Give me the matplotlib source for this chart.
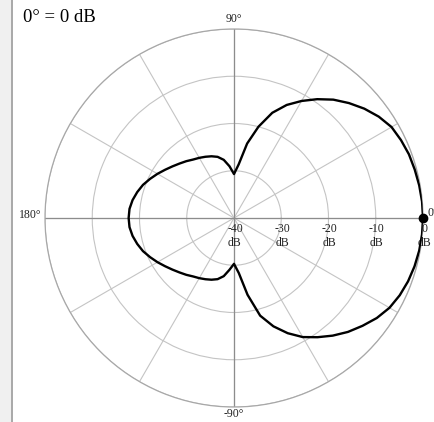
import numpy as np
import matplotlib
matplotlib.use('Agg')
import matplotlib.pyplot as plt
from matplotlib.patches import Rectangle
from matplotlib.lines import Line2D
from matplotlib.transforms import offset_copy

# polar response, dB relative to 0 deg, every 5 degrees (0..360)
ANGLES = list(range(0, 365, 5))
LEVEL_DB = [
    0.0, -0.05, -0.2, -0.4, -0.6, -1.0, -1.5, -2.6, -4.0, -5.6,        # 0-45
    -7.3, -9.3, -11.4, -13.6, -16.3, -20.0, -24.0, -28.6, -30.7,       # 50-90
    -29.0, -27.5, -26.6, -26.1, -25.7, -25.3, -24.9, -24.3, -23.7,     # 95-135
    -23.0, -22.2, -21.3, -20.4, -19.5, -18.8, -18.2, -17.8, -17.7,     # 140-180
    -17.8, -18.2, -18.8, -19.5, -20.4, -21.3, -22.2, -23.0, -23.7,     # 185-225
    -24.3, -24.9, -25.3, -25.7, -26.1, -26.6, -27.5, -29.0, -30.3,     # 230-270
    -28.3, -23.5, -18.6, -15.6, -13.1, -10.9, -9.2, -7.5, -5.9,        # 275-315
    -4.5, -3.1, -2.0, -1.3, -0.8, -0.45, -0.2, -0.05, 0.0,             # 320-360
]
RINGS = [-30, -20, -10, 0]
RING_LABELS = [-40, -30, -20, -10, 0]

SERIF = 'Liberation Serif'
GRID = '#c4c4c4'
AXIS = '#8c8c8c'
TEXT = '#222222'

fig = plt.figure(figsize=(4.34, 4.22), dpi=100)
fig.patch.set_facecolor('white')

# left gray panel of the window
fig.patches.append(Rectangle((0, 0), 11 / 434, 1, transform=fig.transFigure,
                             facecolor='#f0f0f0', edgecolor='none', zorder=0))
fig.lines.append(Line2D([11.5 / 434, 11.5 / 434], [0, 1], transform=fig.transFigure,
                        color='#9a9a9a', lw=1.2))

cx, cy, R = 234, 218, 189
ax = fig.add_axes([(cx - R) / 434, (422 - cy - R) / 422, 2 * R / 434, 2 * R / 422],
                  projection='polar')
ax.set_theta_zero_location('E')
ax.set_theta_direction(1)
ax.set_ylim(-40, 0)
ax.set_rgrids(RINGS, labels=[''] * len(RINGS))
ax.set_thetagrids(range(0, 360, 30), labels=[''] * 12)
ax.grid(True, color=GRID, lw=0.8)
ax.spines['polar'].set_color('#a8a8a8')
ax.spines['polar'].set_linewidth(0.9)
ax.tick_params(length=0)

# darker main axes
for t in [0, 90, 180, 270]:
    ax.plot([np.radians(t)] * 2, [-40, 0], color=AXIS, lw=0.9, zorder=2)

theta = np.radians(ANGLES)
ax.plot(theta, LEVEL_DB, color='black', lw=1.7, zorder=4)
ax.plot([0], [LEVEL_DB[0]], marker='o', color='black', ms=6, zorder=5, clip_on=False)

# ring labels along the 0 deg axis, a little below the axis line
lab_tf = offset_copy(ax.transData, fig=fig, x=1, y=-5, units='dots')
for v in RING_LABELS:
    ax.text(0, v, '%d\ndB' % v, fontsize=8.5, family=SERIF, transform=lab_tf,
            ha='center', va='top', linespacing=1.25, color=TEXT, zorder=3)

# angle labels
fig.text(234 / 434, 1 - 19 / 422, '90°', fontsize=8.5, family=SERIF,
         ha='center', va='center', color=TEXT)
fig.text(234 / 434, 1 - 414 / 422, '-90°', fontsize=8.5, family=SERIF,
         ha='center', va='center', color=TEXT)
fig.text(42 / 434, 1 - 215 / 422, '180°', fontsize=8.5, family=SERIF,
         ha='right', va='center', color=TEXT)
fig.text(427 / 434, 1 - 213 / 422, '0°', fontsize=8.5, family=SERIF,
         ha='left', va='center', color=TEXT)

fig.text(23 / 434, 1 - 17 / 422, '0° = 0 dB', fontsize=13.5, family=SERIF,
         ha='left', va='center', color='black')

fig.savefig('out.png', dpi=100, facecolor='white')
